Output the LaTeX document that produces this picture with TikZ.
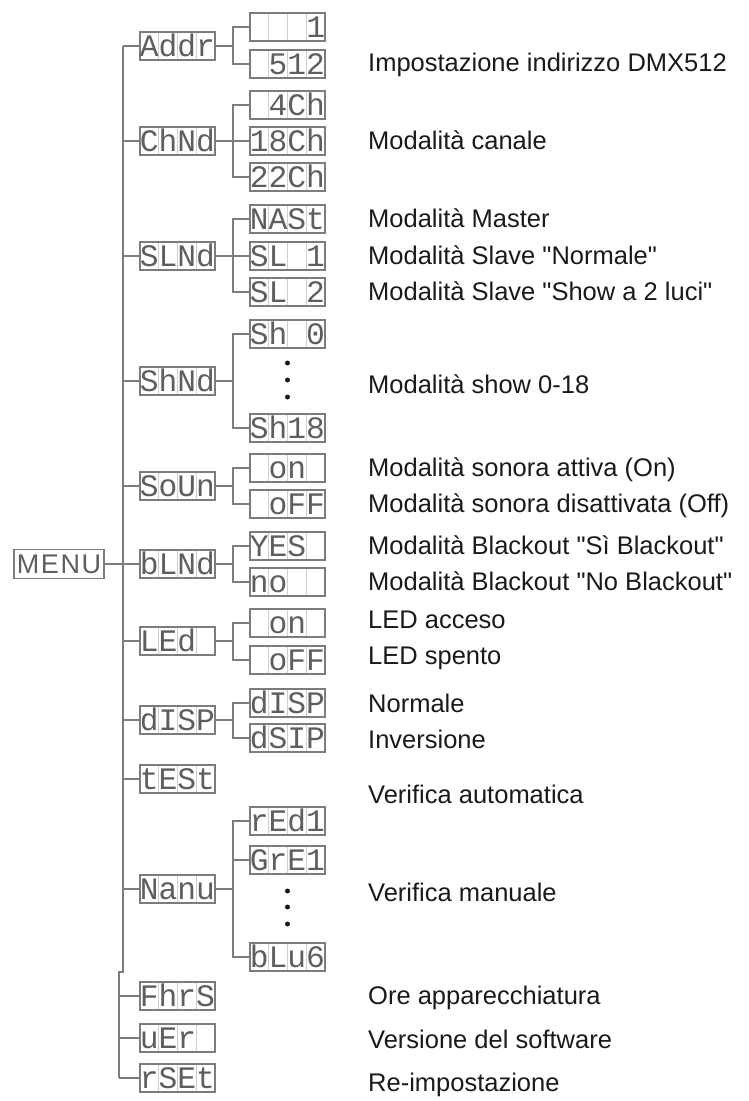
\documentclass[tikz,border=0pt]{standalone}
\usepackage{fontspec}
\setmainfont{Liberation Sans}
\newfontfamily\lcdfont{Liberation Mono}
\newcommand\lcdgap{\hphantom{0}}
\definecolor{Ink}{HTML}{1A1A1A}
\definecolor{Frame}{HTML}{7C7C7C}
\definecolor{Seg}{HTML}{5E5E5E}
\definecolor{Cell}{HTML}{CFCFCF}
\usetikzlibrary{positioning}

\begin{document}
\begin{tikzpicture}[
    x=1pt, y=-1pt,
    lcd/.style={
      draw=Frame, line width=1.5pt, minimum width=75pt, minimum height=28pt,
      inner sep=0pt, text=Seg, text height=20pt, text depth=0pt,
      font=\lcdfont\fontsize{31.25}{31.25}\selectfont,
      path picture={
        \foreach \k in {1,2,3}
          \draw[Cell, line width=0.8pt]
            ([xshift=\k*18.75pt]path picture bounding box.south west)
            -- ([xshift=\k*18.75pt]path picture bounding box.north west);
      }
    },
    menubox/.style={
      draw=Frame, line width=1.5pt, minimum width=90pt, minimum height=29pt,
      inner sep=0pt, text=Seg,
      font=\fontsize{27}{27}\selectfont\addfontfeature{LetterSpace=6}
    },
    link/.style={draw=Frame, line width=1.4pt},
    dot/.style={circle, fill=Ink, inner sep=0pt, minimum size=5pt},
    lbl/.style={anchor=base west, inner sep=0pt, text=Ink,
      font=\fontsize{25.5}{28}\selectfont}
  ]
    \useasboundingbox (0,0) rectangle (749,1101);

    % menu and first level
    \node[menubox] (menu) at (59,564) {MENU};
    \node[lcd] (addr) at (177.5,46) {Addr};
    \node[lcd] (chnd) at (177.5,141) {ChNd};
    \node[lcd] (slnd) at (177.5,256) {SLNd};
    \node[lcd] (shnd) at (177.5,381) {ShNd};
    \node[lcd] (soun) at (177.5,486) {SoUn};
    \node[lcd] (blnd) at (177.5,564) {bLNd};
    \node[lcd] (led) at (177.5,641) {LEd\lcdgap};
    \node[lcd] (disp) at (177.5,720) {dISP};
    \node[lcd] (test) at (177.5,779) {tESt};
    \node[lcd] (manu) at (177.5,889) {Nanu};
    \node[lcd] (fhrs) at (177.5,996) {FhrS};
    \node[lcd] (ver) at (177.5,1038) {uEr\lcdgap};
    \node[lcd] (rset) at (177.5,1078) {rSEt};

    % second level
    \node[lcd] (addrA) at (287.5,27) {\lcdgap\lcdgap\lcdgap1};
    \node[lcd] (addrB) at (287.5,64) {\lcdgap512};
    \node[lcd] (chndA) at (287.5,105) {\lcdgap4Ch};
    \node[lcd] (chndB) at (287.5,141) {18Ch};
    \node[lcd] (chndC) at (287.5,177) {22Ch};
    \node[lcd] (slndA) at (287.5,219) {NASt};
    \node[lcd] (slndB) at (287.5,256) {SL\lcdgap1};
    \node[lcd] (slndC) at (287.5,292) {SL\lcdgap2};
    \node[lcd] (shndA) at (287.5,334) {Sh\lcdgap0};
    \node[lcd] (shndB) at (287.5,428) {Sh18};
    \node[lcd] (sounA) at (287.5,468) {\lcdgap on\lcdgap};
    \node[lcd] (sounB) at (287.5,504) {\lcdgap oFF};
    \node[lcd] (blndA) at (287.5,546) {YES\lcdgap};
    \node[lcd] (blndB) at (287.5,582) {no\lcdgap\lcdgap};
    \node[lcd] (ledA) at (287.5,623) {\lcdgap on\lcdgap};
    \node[lcd] (ledB) at (287.5,660) {\lcdgap oFF};
    \node[lcd] (dispA) at (287.5,703) {dISP};
    \node[lcd] (dispB) at (287.5,738) {dSIP};
    \node[lcd] (manuA) at (287.5,821) {rEd1};
    \node[lcd] (manuB) at (287.5,860) {GrE1};
    \node[lcd] (manuC) at (287.5,957) {bLu6};

    \node[dot] (d1) at (287.5,363) {};
    \node[dot] (d2) at (287.5,380) {};
    \node[dot] (d3) at (287.5,397) {};
    \node[dot] (d4) at (287.5,891) {};
    \node[dot] (d5) at (287.5,907) {};
    \node[dot] (d6) at (287.5,924) {};

    % spine
    \coordinate (sTop) at (123,46);
    \coordinate (sJog) at (123,972);
    \coordinate (sStep) at (119,972);
    \coordinate (sEnd) at (119,1078);
    \coordinate (br) at (233,0);
    \draw[link] (sTop) -- (sJog) -- (sStep) -- (sEnd);
    \draw[link] (menu) -- (blnd);
    \foreach \m in {addr,chnd,slnd,shnd,soun,led,disp,test,manu}
      \draw[link] (\m.west -| sTop) -- (\m.west);
    \foreach \m in {fhrs,ver,rset}
      \draw[link] (\m.west -| sEnd) -- (\m.west);

    % branches
    \foreach \m in {addr,shnd,soun,blnd,led,disp}
      \draw[link] (\m.east) -- (br |- \m.east);
    \draw[link] (addrA.west) -| (br |- addrB.west) -- (addrB.west);
    \draw[link] (chndA.west) -| (br |- chndC.west) -- (chndC.west);
    \draw[link] (chnd.east) -- (chndB.west);
    \draw[link] (slndA.west) -| (br |- slndC.west) -- (slndC.west);
    \draw[link] (slnd.east) -- (slndB.west);
    \draw[link] (shndA.west) -| (br |- shndB.west) -- (shndB.west);
    \draw[link] (sounA.west) -| (br |- sounB.west) -- (sounB.west);
    \draw[link] (blndA.west) -| (br |- blndB.west) -- (blndB.west);
    \draw[link] (ledA.west) -| (br |- ledB.west) -- (ledB.west);
    \draw[link] (dispA.west) -| (br |- dispB.west) -- (dispB.west);
    \draw[link] (manuA.west) -| (br |- manuC.west) -- (manuC.west);
    \draw[link] (manuB.west -| br) -- (manuB.west);
    \draw[link] (manu.east) -- (br |- manu.east);

    % descriptions
    \node[lbl] (t1) at (368,71) {Impostazione indirizzo DMX512};
    \node[lbl] (t2) at (368,149) {Modalità canale};
    \node[lbl] (t3) at (368,227) {Modalità Master};
    \node[lbl] (t4) at (368,264) {Modalità Slave \textquotedbl Normale\textquotedbl};
    \node[lbl] (t5) at (368,300) {Modalità Slave \textquotedbl Show a 2 luci\textquotedbl};
    \node[lbl] (t6) at (368,393) {Modalità show 0-18};
    \node[lbl] (t7) at (368,476) {Modalità sonora attiva (On)};
    \node[lbl] (t8) at (368,512) {Modalità sonora disattivata (Off)};
    \node[lbl] (t9) at (368,554) {Modalità Blackout \textquotedbl Sì Blackout\textquotedbl};
    \node[lbl] (t10) at (368,590) {Modalità Blackout \textquotedbl No Blackout\textquotedbl};
    \node[lbl] (t11) at (368,628) {LED acceso};
    \node[lbl] (t12) at (368,664) {LED spento};
    \node[lbl] (t13) at (368,712) {Normale};
    \node[lbl] (t14) at (368,748) {Inversione};
    \node[lbl] (t15) at (368,803) {Verifica automatica};
    \node[lbl] (t16) at (368,901) {Verifica manuale};
    \node[lbl] (t17) at (368,1004) {Ore apparecchiatura};
    \node[lbl] (t18) at (368,1048) {Versione del software};
    \node[lbl] (t19) at (368,1091) {Re-impostazione};
  \end{tikzpicture}
\end{document}
